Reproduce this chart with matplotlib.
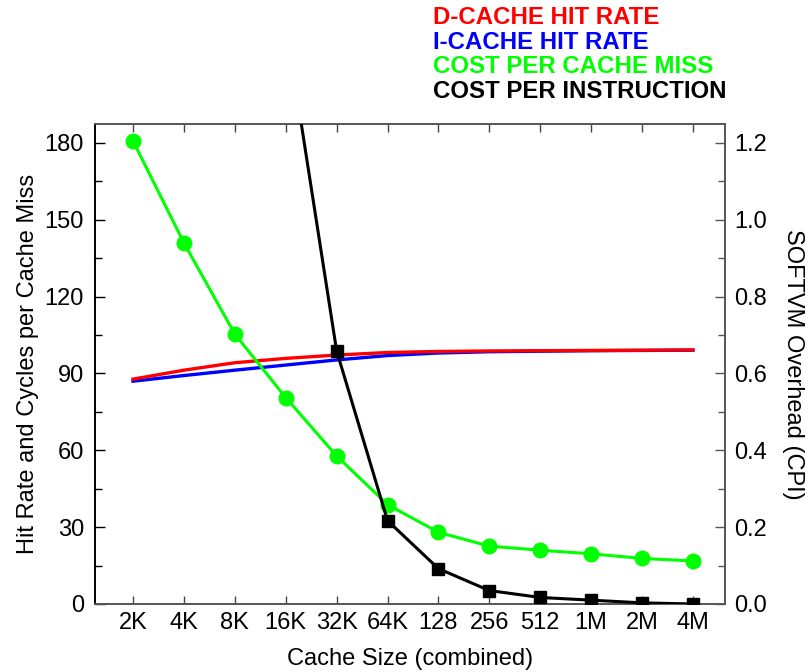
import matplotlib
matplotlib.use("Agg")
import matplotlib.pyplot as plt
import numpy as np
from matplotlib.ticker import MultipleLocator

plt.rcParams['font.family'] = ['Liberation Sans', 'DejaVu Sans']

categories = ["2K", "4K", "8K", "16K", "32K", "64K", "128", "256", "512", "1M", "2M", "4M"]
dcache_hit = [87.8, 91.3, 94.2, 95.9, 97.2, 98.2, 98.6, 98.8, 98.9, 99.0, 99.1, 99.2]
icache_hit = [87.0, 89.2, 91.3, 93.3, 95.3, 97.0, 98.0, 98.5, 98.7, 98.9, 99.0, 99.1]
cost_per_miss = [180.8, 141.0, 105.4, 80.6, 57.8, 38.8, 28.0, 22.6, 21.0, 19.6, 17.8, 16.8]
cost_per_instr = [np.nan, np.nan, np.nan, 1.51, 0.659, 0.217, 0.092, 0.035, 0.017, 0.010, 0.003, 0.0]

x = np.arange(len(categories))

fig = plt.figure(figsize=(8.09, 6.72), dpi=100)
ax = fig.add_axes([95/809, 1-604/672, (724.5-95)/809, (604-124.3)/672])
ax2 = ax.twinx()

ax.plot(x, icache_hit, color='#0000ff', lw=2.4, zorder=3)
ax.plot(x, dcache_hit, color='#ff0000', lw=2.4, zorder=4)
ax.plot(x, cost_per_miss, color='#00ff00', lw=2.2, marker='o', ms=10.5, zorder=5)
ax2.plot(x, cost_per_instr, color='black', lw=2.2, marker='s', ms=8.8, zorder=5)

ylim_left = 187.3
ax.set_ylim(0, ylim_left)
ax2.set_ylim(0, ylim_left/150)
ax.set_xlim(-0.747, 11.62)

ax.set_xticks(x)
ax.set_xticklabels(categories)
ax.set_yticks([0, 30, 60, 90, 120, 150, 180])
ax.yaxis.set_minor_locator(MultipleLocator(15))
ax2.set_yticks([0, 0.2, 0.4, 0.6, 0.8, 1.0, 1.2])
ax2.set_yticklabels(["0.0", "0.2", "0.4", "0.6", "0.8", "1.0", "1.2"])
ax2.yaxis.set_minor_locator(MultipleLocator(0.1))

ax.tick_params(axis='x', which='both', direction='in', top=True, length=6, width=1, labelsize=17, pad=6, color='#444444')
ax.tick_params(axis='y', which='major', direction='in', length=7, width=1, labelsize=17, pad=8)
ax.tick_params(axis='y', which='minor', direction='in', length=5, width=1)
ax2.tick_params(axis='y', which='major', direction='in', length=7, width=1, labelsize=17, pad=7, color='#555555')
ax2.tick_params(axis='y', which='minor', direction='in', length=5, width=1, color='#555555')

for a in (ax, ax2):
    for s in ('top', 'bottom', 'right'):
        a.spines[s].set_color('#555555')
        a.spines[s].set_linewidth(1.2)
    a.spines['left'].set_color('black')
    a.spines['left'].set_linewidth(1.2)

ax.set_xlabel("Cache Size (combined)", fontsize=17)
ax.xaxis.set_label_coords(0.5, -0.1147)
ax.xaxis.label.set_va('center')
ax.set_ylabel("Hit Rate and Cycles per Cache Miss", fontsize=17)
ax.yaxis.set_label_coords(-0.1064, 0.5)
ax.yaxis.label.set_va('center')
ax2.set_ylabel("SOFTVM Overhead (CPI)", fontsize=17, rotation=270)
ax2.yaxis.set_label_coords(1.109, 0.5)
ax2.yaxis.label.set_va('center')

legend_items = [("D-CACHE HIT RATE", '#ff0000'), ("I-CACHE HIT RATE", '#0000ff'),
                ("COST PER CACHE MISS", '#00ff00'), ("COST PER INSTRUCTION", 'black')]
for i, (txt, col) in enumerate(legend_items):
    fig.text(433/809, 1-(18+24.4*i)/672, txt, color=col, fontsize=17.3, fontweight='bold',
             ha='left', va='center')

fig.savefig("out.png", dpi=100)
